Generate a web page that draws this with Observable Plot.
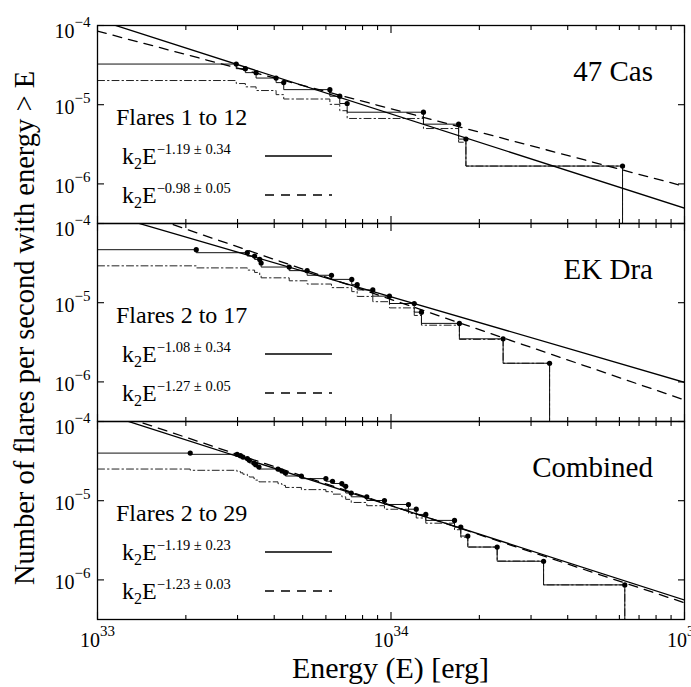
<!DOCTYPE html>
<html><head><meta charset="utf-8">
<script src="https://cdn.jsdelivr.net/npm/d3@7"></script>
<script src="https://cdn.jsdelivr.net/npm/@observablehq/plot@0.6"></script>
<style>
html,body{margin:0;padding:0;background:#fff;overflow:hidden;}
#chart{width:691px;height:687px;}
#chart svg text{font-family:"Liberation Serif","DejaVu Serif","Times New Roman",Times,serif;}
</style></head><body><div id="chart"></div>
<script>
// ---------- data ----------
const panels = ["47 Cas", "EK Dra", "Combined"];
const flareRanges = ["Flares 1 to 12", "Flares 2 to 17", "Flares 2 to 29"];

const energyCas = [2.97e33, 3.19e33, 3.47e33, 4.06e33, 4.31e33, 6.19e33, 6.69e33, 7.09e33, 1.29e34, 1.70e34, 1.80e34, 6.15e34];
const rateCas = [3.26e-5, 2.85e-5, 2.54e-5, 2.17e-5, 1.90e-5, 1.55e-5, 1.28e-5, 1.035e-5, 8.04e-6, 5.68e-6, 3.68e-6, 1.68e-6];
const countRateCas = [2.02e-5, 1.85e-5, 1.68e-5, 1.51e-5, 1.34e-5, 1.18e-5, 1.01e-5, 8.4e-6, 6.7e-6, 5.0e-6, 3.36e-6, 1.68e-6];

const energyDra = [2.17e33, 3.24e33, 3.43e33, 3.57e33, 3.61e33, 4.50e33, 5.18e33, 6.27e33, 7.35e33, 7.67e33, 8.67e33, 9.88e33, 1.20e34, 1.27e34, 1.71e34, 2.41e34, 3.47e34];
const rateDra = [4.67e-5, 4.28e-5, 3.88e-5, 3.52e-5, 3.17e-5, 2.82e-5, 2.54e-5, 2.22e-5, 1.97e-5, 1.69e-5, 1.45e-5, 1.21e-5, 9.77e-6, 7.60e-6, 5.48e-6, 3.50e-6, 1.72e-6];
const countRateDra = [2.92e-5, 2.75e-5, 2.58e-5, 2.41e-5, 2.24e-5, 2.06e-5, 1.89e-5, 1.72e-5, 1.55e-5, 1.38e-5, 1.20e-5, 1.03e-5, 8.6e-6, 6.9e-6, 5.2e-6, 3.44e-6, 1.72e-6];

const energyAll = [2.07e33, 2.99e33, 3.07e33, 3.13e33, 3.24e33, 3.29e33, 3.41e33, 3.46e33, 3.55e33, 4.12e33, 4.25e33, 4.37e33, 4.95e33, 6.00e33, 6.32e33, 6.80e33, 7.01e33, 7.32e33, 8.27e33, 9.50e33, 1.147e34, 1.219e34, 1.314e34, 1.646e34, 1.729e34, 1.827e34, 2.30e34, 3.31e34, 6.26e34];
const rateAll = [3.99e-5, 3.85e-5, 3.70e-5, 3.56e-5, 3.40e-5, 3.23e-5, 2.99e-5, 2.85e-5, 2.66e-5, 2.51e-5, 2.37e-5, 2.24e-5, 2.05e-5, 1.90e-5, 1.76e-5, 1.65e-5, 1.52e-5, 1.25e-5, 1.12e-5, 1.006e-5, 8.96e-6, 7.81e-6, 6.71e-6, 5.64e-6, 4.64e-6, 3.58e-6, 2.60e-6, 1.72e-6, 8.65e-7];
const countRateAll = [2.51e-5, 2.42e-5, 2.34e-5, 2.25e-5, 2.16e-5, 2.08e-5, 1.99e-5, 1.90e-5, 1.82e-5, 1.73e-5, 1.64e-5, 1.56e-5, 1.47e-5, 1.38e-5, 1.30e-5, 1.21e-5, 1.12e-5, 1.04e-5, 9.5e-6, 8.65e-6, 7.8e-6, 6.9e-6, 6.05e-6, 5.2e-6, 4.3e-6, 3.46e-6, 2.6e-6, 1.73e-6, 8.65e-7];

// power-law fits N(>E) = k2 E^-alpha  (log10 k2)
const fitExponentSolid = [1.19, 1.08, 1.19];
const fitErrorSolid = ["0.34", "0.34", "0.23"];
const fitLogKSolid = [35.344, 31.794, 35.396];
const fitExponentDashed = [0.98, 1.27, 1.23];
const fitErrorDashed = ["0.05", "0.05", "0.03"];
const fitLogKDashed = [28.269, 38.222, 36.761];

const xDomain = [1e33, 1e35];
const yDomain = [Math.pow(10, -6.5), 1e-4];
const xTicksMajor = [1e33, 1e34, 1e35];
const xTicksMinor = [2e33, 3e33, 4e33, 5e33, 6e33, 7e33, 8e33, 9e33, 2e34, 3e34, 4e34, 5e34, 6e34, 7e34, 8e34, 9e34];
const xTickLabels = ["10^33", "10^34", "10^35"];
const yTicksMajor = [1e-4, 1e-5, 1e-6];
const yTickLabels = ["10^-4", "10^-5", "10^-6"];

const xTitle = "Energy (E) [erg]";
const yTitle = "Number of flares per second with energy > E";

// ---------- build tables ----------
const energies = [energyCas, energyDra, energyAll];
const rates = [rateCas, rateDra, rateAll];
const countRates = [countRateCas, countRateDra, countRateAll];
const dots = [], solidSteps = [], countSteps = [], fitsSolid = [], fitsDashed = [];
panels.forEach((p, i) => {
  const E = energies[i];
  E.forEach((e, j) => dots.push({panel: p, E: e, N: rates[i][j]}));
  const steps = (arr, out) => {
    out.push({panel: p, E: xDomain[0], N: arr[0]});
    E.forEach((e, j) => out.push({panel: p, E: e, N: arr[j]}));
    out.push({panel: p, E: E[E.length - 1], N: yDomain[0]});
  };
  steps(rates[i], solidSteps);
  steps(countRates[i], countSteps);
  xDomain.forEach(e => {
    fitsSolid.push({panel: p, E: e, N: Math.pow(10, fitLogKSolid[i] - fitExponentSolid[i] * Math.log10(e))});
    fitsDashed.push({panel: p, E: e, N: Math.pow(10, fitLogKDashed[i] - fitExponentDashed[i] * Math.log10(e))});
  });
});

const font = '"Liberation Serif", "DejaVu Serif", "Times New Roman", Times, serif';
const W = 691, H = 687, mL = 97, mR = 7, mT = 24, mB = 67;
const tickOpts = {tickFormat: () => "", facetAnchor: null, label: null, strokeWidth: 1.1};

const chart = Plot.plot({
  width: W, height: H,
  marginLeft: mL, marginRight: mR, marginTop: mT, marginBottom: mB,
  style: {fontFamily: font, background: "white", color: "black", overflow: "hidden"},
  x: {type: "log", domain: xDomain},
  y: {type: "log", domain: yDomain},
  fy: {domain: panels, padding: 0, axis: null},
  marks: [
    Plot.line(countSteps, {x: "E", y: "N", fy: "panel", z: "panel", curve: "step-before", stroke: "#222", strokeWidth: 1, strokeDasharray: "7,3,1.5,3", clip: true}),
    Plot.line(solidSteps, {x: "E", y: "N", fy: "panel", z: "panel", curve: "step-before", stroke: "#111", strokeWidth: 1, clip: true}),
    Plot.line(fitsSolid, {x: "E", y: "N", fy: "panel", z: "panel", stroke: "black", strokeWidth: 1.3, clip: true}),
    Plot.line(fitsDashed, {x: "E", y: "N", fy: "panel", z: "panel", stroke: "black", strokeWidth: 1.3, strokeDasharray: "9,7", clip: true}),
    Plot.dot(dots, {x: "E", y: "N", fy: "panel", r: 2.6, fill: "black", stroke: "none"}),
    Plot.frame({stroke: "black", strokeWidth: 1.3}),
    Plot.axisX({anchor: "top", ticks: xTicksMajor, tickSize: -7, ...tickOpts}),
    Plot.axisX({anchor: "top", ticks: xTicksMinor, tickSize: -4, ...tickOpts}),
    Plot.axisX({anchor: "bottom", ticks: xTicksMajor, tickSize: -7, ...tickOpts}),
    Plot.axisX({anchor: "bottom", ticks: xTicksMinor, tickSize: -4, ...tickOpts}),
    Plot.axisY({anchor: "left", ticks: yTicksMajor, tickSize: -7, ...tickOpts}),
    Plot.axisY({anchor: "right", ticks: yTicksMajor, tickSize: -7, ...tickOpts}),
    Plot.axisX({anchor: "bottom", ticks: xTicksMajor, tickSize: 0, tickPadding: 0, fontSize: 20, label: null,
      tickFormat: d => xTickLabels[xTicksMajor.indexOf(d)]}),
    Plot.axisY({anchor: "left", ticks: yTicksMajor, tickSize: 0, tickPadding: 7, fontSize: 20, label: null, facetAnchor: null,
      tickFormat: d => yTickLabels[yTicksMajor.indexOf(d)]})
  ]
});

document.getElementById("chart").appendChild(chart);
const svg = d3.select(chart.tagName.toLowerCase() === "svg" ? chart : chart.querySelector("svg"));

// superscript tick labels
function toSup(node, baseY, supDy) {
  const t = d3.select(node);
  const s = t.text();
  if (!s.includes("^")) return;
  const [base, sup] = s.split("^");
  t.text(null);
  t.attr("y", baseY);
  t.append("tspan").text(base);
  t.append("tspan").attr("dy", supDy).attr("font-size", 15).text(sup.replace("-", "\u2212"));
}
svg.selectAll('g[aria-label="y-axis tick label"] text').each(function() {
  const s = d3.select(this).text();
  d3.select(this).attr("text-anchor", "end");
  toSup(this, s === yTickLabels[0] ? 12 : 9, -11);
});
svg.selectAll('g[aria-label="x-axis tick label"] text').each(function() {
  d3.select(this).attr("text-anchor", "middle");
  toSup(this, 27, -11);
});

// panel annotations
let fyScale = null;
try { fyScale = chart.scale("fy"); } catch (e) {}
const bandH = (H - mT - mB) / panels.length;
const topOf = (p, i) => (fyScale && fyScale.apply && isFinite(fyScale.apply(p))) ? fyScale.apply(p) : mT + i * bandH;

const ann = svg.append("g").attr("font-family", font).attr("fill", "black").attr("text-anchor", "start");
function fitLabel(x, y, exp, err) {
  const t = ann.append("text").attr("x", x).attr("y", y).attr("font-size", 24).attr("text-anchor", "start");
  t.append("tspan").text("k");
  t.append("tspan").attr("dy", 5).attr("font-size", 16).text("2");
  t.append("tspan").attr("dy", -5).text("E");
  t.append("tspan").attr("dy", -10).attr("font-size", 14.5).text("\u2212" + exp.toFixed(2) + " \u00b1 " + err);
}
panels.forEach((p, i) => {
  const top = topOf(p, i);
  ann.append("text").attr("x", 653).attr("y", top + 56).attr("text-anchor", "end").attr("font-size", 29).text(p);
  ann.append("text").attr("x", 116).attr("y", top + 100).attr("text-anchor", "start").attr("font-size", 24).text(flareRanges[i]);
  fitLabel(122, top + 139, fitExponentSolid[i], fitErrorSolid[i]);
  fitLabel(122, top + 178, fitExponentDashed[i], fitErrorDashed[i]);
  ann.append("line").attr("x1", 265).attr("x2", 332).attr("y1", top + 131).attr("y2", top + 131)
    .attr("stroke", "black").attr("stroke-width", 1.3);
  ann.append("line").attr("x1", 265).attr("x2", 332).attr("y1", top + 170).attr("y2", top + 170)
    .attr("stroke", "black").attr("stroke-width", 1.3).attr("stroke-dasharray", "9,7");
});

// axis titles
ann.append("text").attr("x", (mL + W - mR) / 2).attr("y", 678).attr("text-anchor", "middle").attr("font-size", 30).text(xTitle);
ann.append("text").attr("transform", "translate(34,328) rotate(-90)").attr("text-anchor", "middle").attr("font-size", 28.5).text(yTitle);
</script>
</body></html>
